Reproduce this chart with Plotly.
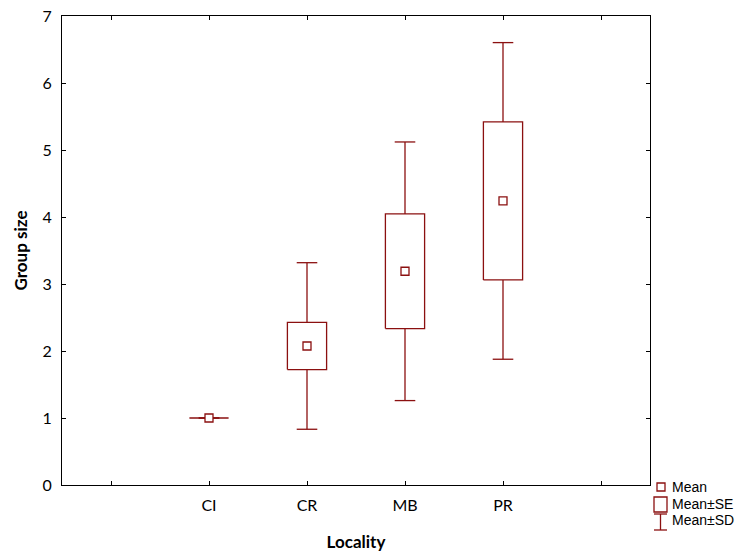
import plotly.graph_objects as go

# Data
localities = ["CI", "CR", "MB", "PR"]
means = [1.00, 2.075, 3.19, 4.24]
se = [0.0, 0.352, 0.856, 1.179]
sd = [0.0, 1.243, 1.93, 2.363]
tick_labels = ["", "CI", "CR", "MB", "PR", ""]

RED = "#8b1010"
BOX_HALF = 0.2
CAP_HALF = 0.105

pos = [i + 1 for i in range(len(localities))]

# whiskers
wx, wy = [], []
for p, m, e, d in zip(pos, means, se, sd):
    wx += [p, p, None, p - CAP_HALF, p + CAP_HALF, None]
    wy += [m + e, m + d, None, m + d, m + d, None]
    wx += [p, p, None, p - CAP_HALF, p + CAP_HALF, None]
    wy += [m - e, m - d, None, m - d, m - d, None]

# boxes
bx, by = [], []
for p, m, e in zip(pos, means, se):
    bx += [p - BOX_HALF, p + BOX_HALF, p + BOX_HALF, p - BOX_HALF, p - BOX_HALF, None]
    by += [m - e, m - e, m + e, m + e, m - e, None]

fig = go.Figure()
fig.add_trace(go.Scatter(x=wx, y=wy, mode="lines", line=dict(color=RED, width=1.3),
                         showlegend=False, hoverinfo="skip"))
fig.add_trace(go.Scatter(x=bx, y=by, mode="lines", fill="toself", fillcolor="white",
                         line=dict(color=RED, width=1.3), showlegend=False, hoverinfo="skip"))
fig.add_trace(go.Scatter(x=pos, y=means, mode="markers",
                         marker=dict(symbol="square", size=8, color="white",
                                     line=dict(color=RED, width=1.3)),
                         showlegend=False))

# plot area in pixels
L, R, T, B = 62, 650, 16, 485
W, H = 743, 552
PW, PH = R - L, B - T

def px(x):
    return (x - L) / PW

def py(y):
    return (B - y) / PH

shapes = [
    dict(type="rect", xref="paper", yref="paper", x0=px(657), x1=px(665), y0=py(491), y1=py(483),
         line=dict(color=RED, width=1.3)),
    dict(type="rect", xref="paper", yref="paper", x0=px(654), x1=px(667), y0=py(512), y1=py(497),
         line=dict(color=RED, width=1.3)),
    dict(type="line", xref="paper", yref="paper", x0=px(660.5), x1=px(660.5), y0=py(514), y1=py(530),
         line=dict(color=RED, width=1.3)),
    dict(type="line", xref="paper", yref="paper", x0=px(654), x1=px(667), y0=py(514), y1=py(514),
         line=dict(color=RED, width=1.3)),
    dict(type="line", xref="paper", yref="paper", x0=px(654), x1=px(667), y0=py(530), y1=py(530),
         line=dict(color=RED, width=1.3)),
]
legend_texts = ["Mean", "Mean±SE", "Mean±SD"]
legend_y = [487, 503.5, 520]
annotations = [
    dict(text=t, xref="paper", yref="paper", x=px(670), y=py(yy), xanchor="left", yanchor="middle",
         showarrow=False, font=dict(family="Liberation Sans", size=14, color="black"))
    for t, yy in zip(legend_texts, legend_y)
]

fig.update_layout(
    width=W, height=H,
    margin=dict(l=L, r=W - R, t=T, b=H - B, autoexpand=False),
    paper_bgcolor="white", plot_bgcolor="white",
    font=dict(family="Lato", size=16, color="black"),
    shapes=shapes, annotations=annotations,
    showlegend=False,
)
fig.update_xaxes(
    range=[-0.5, 5.5], tickvals=list(range(len(tick_labels))), ticktext=tick_labels,
    ticks="inside", ticklen=4, tickcolor="black", showline=True, linecolor="black", linewidth=1,
    mirror="ticks", showgrid=False, zeroline=False, ticklabelstandoff=6, automargin=False,
    title=dict(text="<b>Locality</b>", font=dict(family="Lato", size=17), standoff=22),
)
fig.update_yaxes(
    range=[0, 7], tickvals=list(range(8)), ticks="inside", ticklen=4, tickcolor="black",
    showline=True, linecolor="black", linewidth=1, mirror="ticks", showgrid=False, zeroline=False,
    ticklabelstandoff=6, automargin=False,
    title=dict(text="<b>Group size</b>", font=dict(family="Lato", size=17), standoff=10),
)

fig.write_html("out.html", config={"displayModeBar": False},
               post_script="document.body.style.margin='0';document.body.style.overflow='hidden';")
